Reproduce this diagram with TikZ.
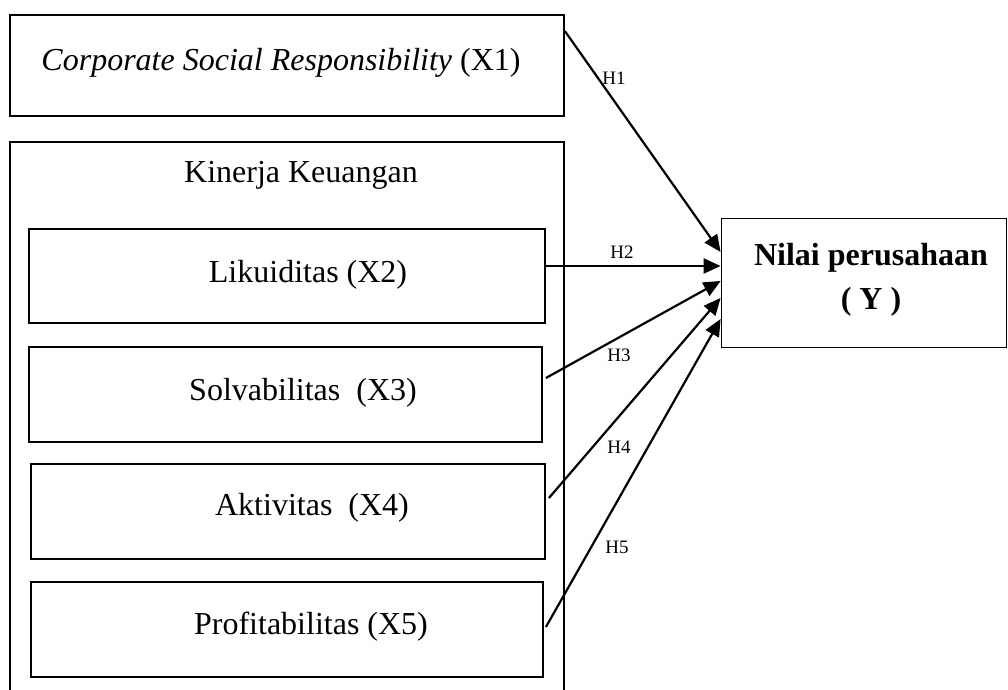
\documentclass[tikz,border=0pt]{standalone}
\usepackage{fontspec}
\setmainfont{Liberation Serif}
\usetikzlibrary{arrows.meta}
\usetikzlibrary{positioning, calc}
\tikzset{
var box/.style = { rectangle, draw = black, line width = 1.8pt, fill = white, minimum height = 95pt, inner sep = 0pt },
box text/.style = { black, align = center, font = \fontsize{32}{44}\selectfont, inner sep = 0pt },
hyp/.style = { black, font = \fontsize{19}{22}\selectfont, inner sep = 0pt },
path arrow/.style = { draw = black, line width = 2.2pt, -{Triangle[length = 17pt, width = 15pt]} },
}

\begin{document}
\begin{tikzpicture}[x = 1pt, y = -1pt]
    \useasboundingbox (0, 0) rectangle (1008, 689);
    \clip (0, 0) rectangle (1008, 689);
    % boxes
    \node[var box, minimum width = 554pt, minimum height = 101pt] (csr) at (287, 65.5) {};
    \node[var box, minimum width = 554pt, minimum height = 600pt, anchor = north] (kinerja) at (287, 141) {};
    \node[var box, minimum width = 516pt, minimum height = 94pt] (likuid) at (287, 276) {};
    \node[var box, minimum width = 513pt] (solva) at (285.5, 394.5) {};
    \node[var box, minimum width = 514pt] (aktiv) at (288, 511.5) {};
    \node[var box, minimum width = 512pt] (profit) at (287, 629.5) {};
    \node[var box, minimum width = 285pt, minimum height = 129pt] (nilai) at (864, 283) {};
    % texts
    \node[box text] (csr text) at (281, 63) {\textit{Corporate Social Responsibility} (X1)};
    \node[box text] (kinerja text) at (301, 175) {Kinerja Keuangan};
    \node[box text] (likuid text) at (308, 274.5) {Likuiditas (X2)};
    \node[box text] (solva text) at (303, 392.5) {Solvabilitas\ \ (X3)};
    \node[box text] (aktiv text) at (312, 507.5) {Aktivitas\ \ (X4)};
    \node[box text] (profit text) at (311, 626.5) {Profitabilitas (X5)};
    \node[box text, font = \fontsize{32}{44}\selectfont\bfseries] (nilai text) at (871, 279.5) {Nilai perusahaan\\( Y )};
    % arrow ends
    \coordinate (csr out) at ($(csr.north east) + (0, 17)$);
    \coordinate (likuid out) at ($(likuid.east) + (0, -10)$);
    \coordinate (solva out) at ($(solva.east) + (3, -16.5)$);
    \coordinate (aktiv out) at ($(aktiv.east) + (3, -13.5)$);
    \coordinate (profit out) at ($(profit.east) + (2, -2.5)$);
    \coordinate (in1) at ($(nilai.west) + (0, -31)$);
    \coordinate (in2) at ($(nilai.west) + (0, -17)$);
    \coordinate (in3) at ($(nilai.west) + (0, -2)$);
    \coordinate (in4) at ($(nilai.west) + (0, 15)$);
    \coordinate (in5) at ($(nilai.west) + (0, 36)$);
    \draw[path arrow] (csr out) -- (in1);
    \draw[path arrow] (likuid out) -- (in2);
    \draw[path arrow] (solva out) -- (in3);
    \draw[path arrow] (aktiv out) -- (in4);
    \draw[path arrow] (profit out) -- (in5);
    % hypotheses
    \node[hyp] (h1) at (614, 78) {H1};
    \node[hyp] (h2) at (622, 252) {H2};
    \node[hyp] (h3) at (619, 355) {H3};
    \node[hyp] (h4) at (619, 447) {H4};
    \node[hyp] (h5) at (617, 547) {H5};
\end{tikzpicture}
\end{document}
